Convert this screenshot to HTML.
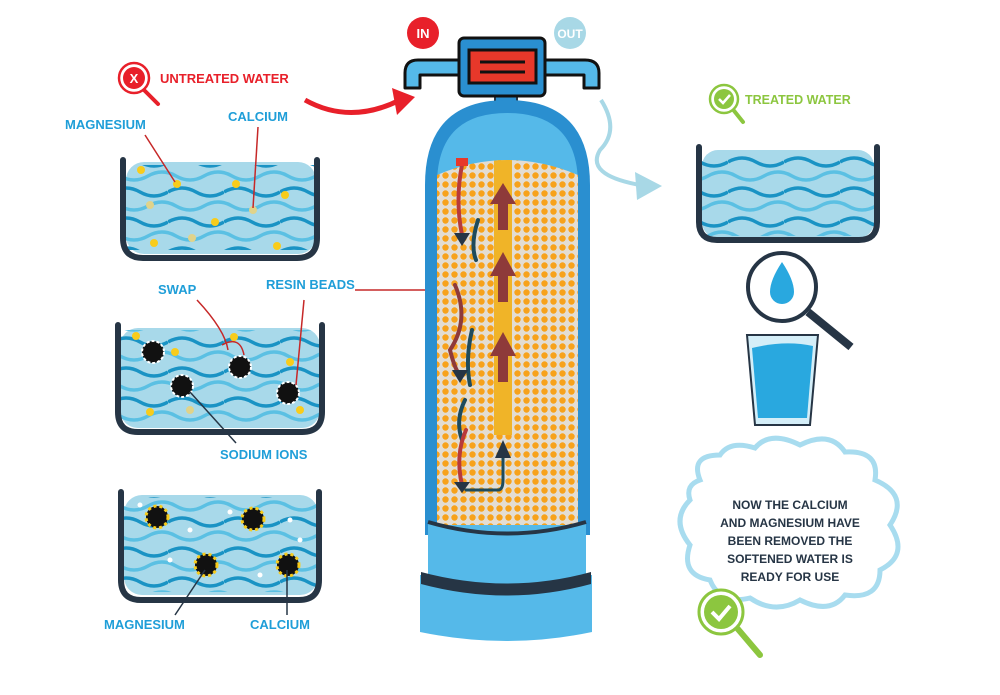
<!DOCTYPE html>
<html><head><meta charset="utf-8"><style>
html,body{margin:0;padding:0;background:#fff}
svg{display:block}
text{font-family:"Liberation Sans",sans-serif;font-weight:bold}
</style></head><body>
<svg width="1000" height="695" viewBox="0 0 1000 695" xmlns="http://www.w3.org/2000/svg">
<defs>
<pattern id="dots" width="9" height="9" patternUnits="userSpaceOnUse">
<rect width="9" height="9" fill="#e3ddd3"/>
<circle cx="4.5" cy="4.5" r="3.2" fill="#f7a21b"/>
</pattern>
<pattern id="waves" width="56" height="30" patternUnits="userSpaceOnUse" y="4">
<path d="M0 8 Q14 0 28 8 T56 8" fill="none" stroke="#1a93c4" stroke-width="3.5"/>
<path d="M-20 22 Q-6 14 8 22 T36 22 T64 22" fill="none" stroke="#5bc0e3" stroke-width="3.5"/>
</pattern>
<clipPath id="tankclip"><path d="M437 525 L437 175 Q507 145 578 175 L578 525 Z"/></clipPath>
</defs>

<rect x="126" y="162" width="190" height="92" rx="18" fill="#a8d9ea"/>
<rect x="126" y="165" width="190" height="85" fill="url(#waves)"/>
<path d="M123 160 V238 Q123 258 143 258 H297 Q317 258 317 238 V160" fill="none" stroke="#263545" stroke-width="6" stroke-linecap="round"/>
<rect x="120" y="328" width="200" height="100" rx="18" fill="#a8d9ea"/>
<rect x="120" y="330" width="200" height="95" fill="url(#waves)"/>
<path d="M118 325 V412 Q118 432 138 432 H302 Q322 432 322 412 V325" fill="none" stroke="#263545" stroke-width="6" stroke-linecap="round"/>
<rect x="124" y="495" width="194" height="100" rx="18" fill="#a8d9ea"/>
<rect x="124" y="497" width="194" height="95" fill="url(#waves)"/>
<path d="M121 492 V580 Q121 600 141 600 H299 Q319 600 319 580 V492" fill="none" stroke="#263545" stroke-width="6" stroke-linecap="round"/>
<rect x="702" y="150" width="172" height="88" rx="16" fill="#a8d9ea"/>
<rect x="702" y="152" width="172" height="84" fill="url(#waves)"/>
<path d="M699 147 V222 Q699 240 717 240 H859 Q877 240 877 222 V147" fill="none" stroke="#263545" stroke-width="6" stroke-linecap="round"/>

<g fill="#f8cc1b">
<circle cx="141" cy="170" r="4"/><circle cx="177" cy="184" r="4"/><circle cx="236" cy="184" r="4"/><circle cx="285" cy="195" r="4"/><circle cx="215" cy="222" r="4"/><circle cx="154" cy="243" r="4"/><circle cx="277" cy="246" r="4"/>
<circle cx="150" cy="205" r="4" fill="#e0d38a"/><circle cx="253" cy="210" r="4" fill="#e0d38a"/><circle cx="192" cy="238" r="4" fill="#e0d38a"/>
<circle cx="136" cy="336" r="4"/><circle cx="234" cy="337" r="4"/><circle cx="290" cy="362" r="4"/><circle cx="150" cy="412" r="4"/><circle cx="190" cy="410" r="4" fill="#e0d38a"/><circle cx="300" cy="410" r="4"/><circle cx="175" cy="352" r="4"/>
</g>
<g fill="#111" stroke="#fff" stroke-width="2" stroke-dasharray="3 2">
<circle cx="153" cy="352" r="11"/><circle cx="182" cy="386" r="11"/><circle cx="240" cy="367" r="11"/><circle cx="288" cy="393" r="11"/>
</g>
<g fill="#111" stroke="#f8cc1b" stroke-width="3" stroke-dasharray="3 3">
<circle cx="157" cy="517" r="11"/><circle cx="253" cy="519" r="11"/><circle cx="206" cy="565" r="11"/><circle cx="288" cy="565" r="11"/>
</g>
<g fill="#fff"><circle cx="140" cy="505" r="2.5"/><circle cx="190" cy="530" r="2.5"/><circle cx="230" cy="512" r="2.5"/><circle cx="290" cy="520" r="2.5"/><circle cx="170" cy="560" r="2.5"/><circle cx="260" cy="575" r="2.5"/><circle cx="300" cy="540" r="2.5"/></g>

<g fill="none" stroke-width="1.5">
<line x1="145" y1="135" x2="175" y2="182" stroke="#c62828"/>
<line x1="258" y1="127" x2="253" y2="208" stroke="#c62828"/>
<path d="M197 300 Q225 330 228 350" stroke="#c62828"/>
<path d="M222 345 Q240 335 244 355" stroke="#c62828"/>
<line x1="304" y1="300" x2="296" y2="385" stroke="#c62828"/>
<line x1="355" y1="290" x2="448" y2="290" stroke="#c62828"/>
<line x1="190" y1="392" x2="236" y2="443" stroke="#263545"/>
<line x1="175" y1="615" x2="205" y2="570" stroke="#263545"/>
<line x1="287" y1="615" x2="287" y2="570" stroke="#263545"/>
</g>

<g font-size="13" fill="#1f9ed8">
<text x="65" y="129">MAGNESIUM</text>
<text x="228" y="121">CALCIUM</text>
<text x="158" y="294">SWAP</text>
<text x="266" y="289">RESIN BEADS</text>
<text x="220" y="459">SODIUM IONS</text>
<text x="104" y="629">MAGNESIUM</text>
<text x="250" y="629">CALCIUM</text>
</g>
<text x="160" y="83" font-size="13" fill="#e8202a">UNTREATED WATER</text>
<text x="745" y="104" font-size="12.5" fill="#8cc63f">TREATED WATER</text>

<line x1="142" y1="88" x2="158" y2="104" stroke="#e8202a" stroke-width="4" stroke-linecap="round"/>
<circle cx="134" cy="78" r="15" fill="#fff" stroke="#e8202a" stroke-width="2.5"/>
<circle cx="134" cy="78" r="11" fill="#e8202a"/>
<text x="134" y="83" font-size="13" fill="#fff" text-anchor="middle">X</text>
<line x1="731" y1="107" x2="743" y2="122" stroke="#8cc63f" stroke-width="4" stroke-linecap="round"/>
<circle cx="724" cy="99" r="14" fill="#fff" stroke="#8cc63f" stroke-width="2.5"/>
<circle cx="724" cy="99" r="10" fill="#8cc63f"/>
<path d="M719 99 l4 4 l7 -8" fill="none" stroke="#fff" stroke-width="2.5"/>

<path d="M305 100 Q350 125 400 100" fill="none" stroke="#e8202a" stroke-width="5"/>
<polygon points="392,88 415,97 397,115" fill="#e8202a"/>
<path d="M601 100 Q620 130 600 150 Q585 175 640 185" fill="none" stroke="#a8d8e6" stroke-width="4"/>
<polygon points="635,172 662,186 637,200" fill="#a8d8e6"/>

<rect x="495" y="92" width="22" height="14" fill="#2a8fd0" stroke="#263545" stroke-width="2"/>
<path d="M425 535 L425 185 Q425 100 507 100 Q590 100 590 185 L590 535 Z" fill="#2a8fd0"/>
<path d="M437 535 L437 185 Q437 113 507 113 Q578 113 578 185 L578 535 Z" fill="#55b9e9"/>
<g clip-path="url(#tankclip)">
<rect x="437" y="150" width="141" height="380" fill="url(#dots)"/>
<rect x="494" y="150" width="18" height="285" fill="#f0b428"/>
</g>
<g fill="none" stroke-width="4" stroke-linecap="round">
<path d="M462 165 Q455 200 462 235" stroke="#b83a3a"/>
<path d="M478 220 Q470 245 476 260" stroke="#1e4b5c"/>
<path d="M455 285 Q470 320 450 350 Q455 370 460 375" stroke="#8e3a3a"/>
<path d="M472 330 Q465 360 470 385" stroke="#1e4b5c"/>
<path d="M465 400 Q455 420 462 440" stroke="#1e4b5c"/>
<path d="M466 430 Q455 455 462 485" stroke="#b83a3a"/>
<path d="M466 490 H498 Q503 490 503 480 V455" stroke="#1e4b5c" stroke-width="3"/>
</g>
<g fill="#263545">
<polygon points="454,233 470,233 462,246"/><polygon points="452,370 468,370 460,383"/><polygon points="454,482 470,482 462,493"/>
<polygon points="495,458 511,458 503,440"/>
</g>
<g fill="#8e3a3a">
<rect x="498" y="200" width="10" height="30"/><polygon points="490,204 516,204 503,183"/>
<rect x="498" y="272" width="10" height="30"/><polygon points="490,276 516,276 503,252"/>
<rect x="498" y="352" width="10" height="30"/><polygon points="490,356 516,356 503,332"/>
</g>
<rect x="456" y="158" width="12" height="8" fill="#e8382a"/>
<path d="M428 522 Q507 545 586 522 V590 H428 Z" fill="#55b9e9"/>
<path d="M428 522 Q507 545 586 522" fill="none" stroke="#263545" stroke-width="4"/>
<path d="M420 575 L420 632 Q507 650 592 632 L592 575 Z" fill="#55b9e9"/>
<path d="M421 572 Q507 595 591 572 L591 584 Q507 607 421 584 Z" fill="#263545"/>
<path d="M458 60 H418 Q405 60 405 73 V88 H420 V75 H458" fill="#55b9e9" stroke="#111" stroke-width="3" stroke-linejoin="round"/>
<path d="M545 60 H585 Q599 60 599 73 V88 H584 V75 H545" fill="#55b9e9" stroke="#111" stroke-width="3" stroke-linejoin="round"/>
<rect x="459" y="38" width="86" height="58" rx="5" fill="#2a8fd0" stroke="#111" stroke-width="3"/>
<rect x="469" y="50" width="67" height="33" fill="#e8382a" stroke="#111" stroke-width="3"/>
<line x1="480" y1="62" x2="525" y2="62" stroke="#111" stroke-width="3"/>
<line x1="480" y1="72" x2="525" y2="72" stroke="#111" stroke-width="3"/>
<circle cx="423" cy="33" r="16" fill="#e8202a"/>
<text x="423" y="38" font-size="13" fill="#fff" text-anchor="middle">IN</text>
<circle cx="570" cy="33" r="16" fill="#a8d8e6"/>
<text x="570" y="38" font-size="12" fill="#fff" text-anchor="middle">OUT</text>

<line x1="808" y1="312" x2="851" y2="347" stroke="#263545" stroke-width="8"/>
<circle cx="782" cy="287" r="34" fill="#fff" stroke="#263545" stroke-width="4"/>
<path d="M782 262 Q770 280 770 292 A12 12 0 0 0 794 292 Q794 280 782 262 Z" fill="#29a8df"/>
<path d="M747 335 H818 L810 425 H755 Z" fill="#d4eef8" stroke="#263545" stroke-width="2"/>
<path d="M752 348 Q785 340 813 346 L807 418 H758 Z" fill="#29a8df"/>

<path d="M700 480 Q690 455 720 455 Q730 440 755 448 Q770 430 800 445 Q830 430 845 452 Q880 450 875 480 Q910 495 890 525 Q910 555 880 570 Q880 600 845 595 Q830 615 800 600 Q775 615 750 598 Q720 605 710 580 Q680 575 690 545 Q670 520 690 500 Q685 485 700 480 Z" fill="#fff" stroke="#a8dcef" stroke-width="5"/>
<g font-size="12" fill="#263545" text-anchor="middle">
<text x="790" y="509">NOW THE CALCIUM</text>
<text x="790" y="527">AND MAGNESIUM HAVE</text>
<text x="790" y="545">BEEN REMOVED THE</text>
<text x="790" y="563">SOFTENED WATER IS</text>
<text x="790" y="581">READY FOR USE</text>
</g>
<line x1="737" y1="628" x2="760" y2="655" stroke="#8cc63f" stroke-width="6" stroke-linecap="round"/>
<circle cx="721" cy="612" r="22" fill="#fff" stroke="#8cc63f" stroke-width="3"/>
<circle cx="721" cy="612" r="17" fill="#8cc63f"/>
<path d="M712 612 l7 7 l11 -13" fill="none" stroke="#fff" stroke-width="4"/>
</svg>
</body></html>
